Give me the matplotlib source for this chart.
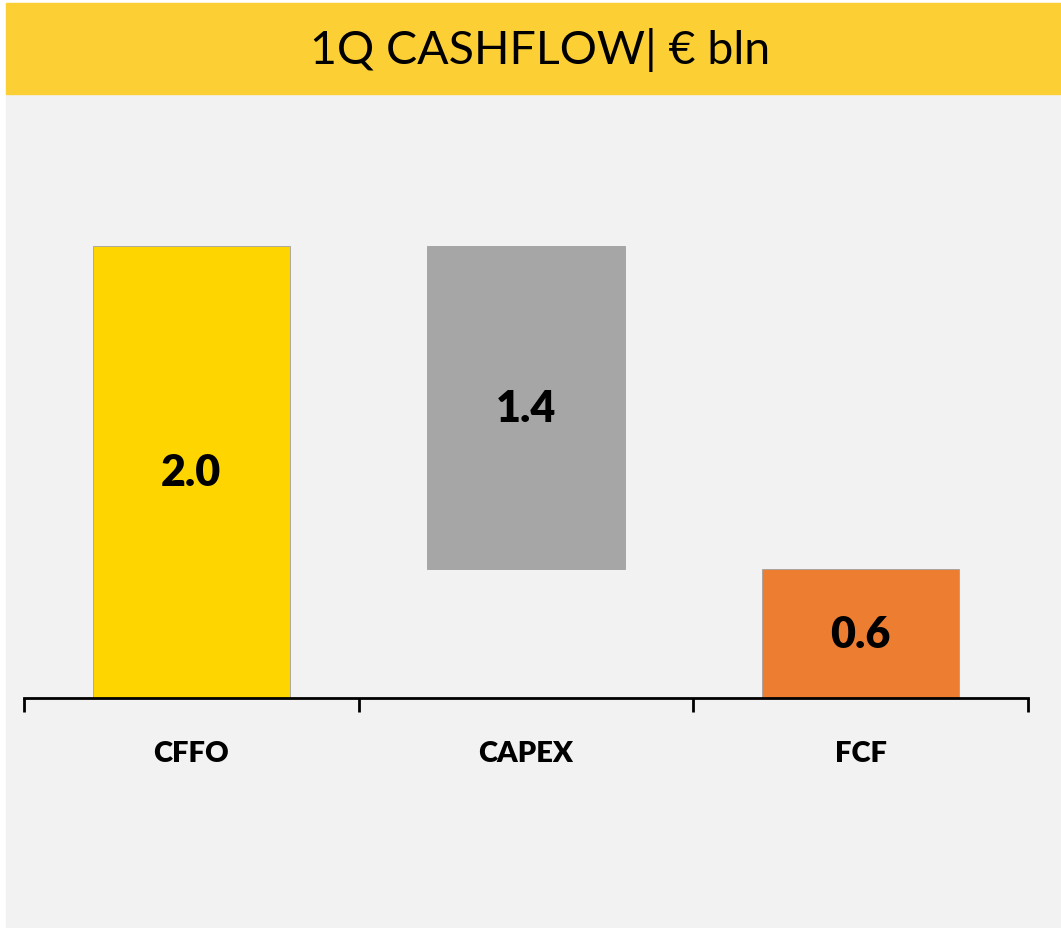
import matplotlib
matplotlib.use("Agg")
import matplotlib.pyplot as plt
from matplotlib.patches import Rectangle

# Data (€ bln)
categories = ["CFFO", "CAPEX", "FCF"]
cffo = 2.0
capex = 1.43
fcf = 0.57
values = [cffo, capex, fcf]
bottoms = [0.0, fcf, 0.0]
colors = ["#FFD500", "#A6A6A6", "#ED7D31"]
title = "1Q CASHFLOW| € bln"

plt.rcParams["font.family"] = ["Lato", "DejaVu Sans"]

fig = plt.figure(figsize=(10.61, 9.29), dpi=100, facecolor="white")

# Panel background and title banner
W, H = 1061, 929
fig.add_artist(Rectangle((6 / W, 0), 1 - 6 / W, 1 - 95 / H,
                         transform=fig.transFigure, color="#F2F2F2", zorder=-10))
fig.add_artist(Rectangle((6 / W, 1 - 95 / H), 1 - 6 / W, 91 / H,
                         transform=fig.transFigure, color="#FCD035", zorder=-10))
fig.text(540 / W, 1 - 50 / H, title, ha="center", va="center",
         fontsize=33.5, color="black")

ax = fig.add_axes([24 / W, 1 - 699 / H, 1004 / W, 604 / H])
ax.patch.set_alpha(0)

x = range(len(categories))
ax.bar(x, values, bottom=bottoms, width=0.59, color=colors,
       edgecolor="#A0A0A0", linewidth=0.6, zorder=2)

for i, (v, b) in enumerate(zip(values, bottoms)):
    ax.text(i, b + v / 2, f"{v:.1f}", ha="center", va="center",
            fontsize=31, fontweight="heavy", color="black")

ax.set_xlim(-0.5, 2.5)
ax.set_ylim(0, 604 / 226)

for side in ["left", "right", "top"]:
    ax.spines[side].set_visible(False)
ax.spines["bottom"].set_linewidth(2)
ax.spines["bottom"].set_zorder(3)
ax.set_yticks([])

ax.set_xticks(list(x))
ax.set_xticklabels(categories, fontsize=21, fontweight="heavy")
ax.tick_params(axis="x", which="major", length=0, pad=30)
ax.set_xticks([-0.5, 0.5, 1.5, 2.5], minor=True)
ax.tick_params(axis="x", which="minor", length=10, width=2, direction="out")

fig.savefig("out.png", dpi=100, facecolor=fig.get_facecolor())
